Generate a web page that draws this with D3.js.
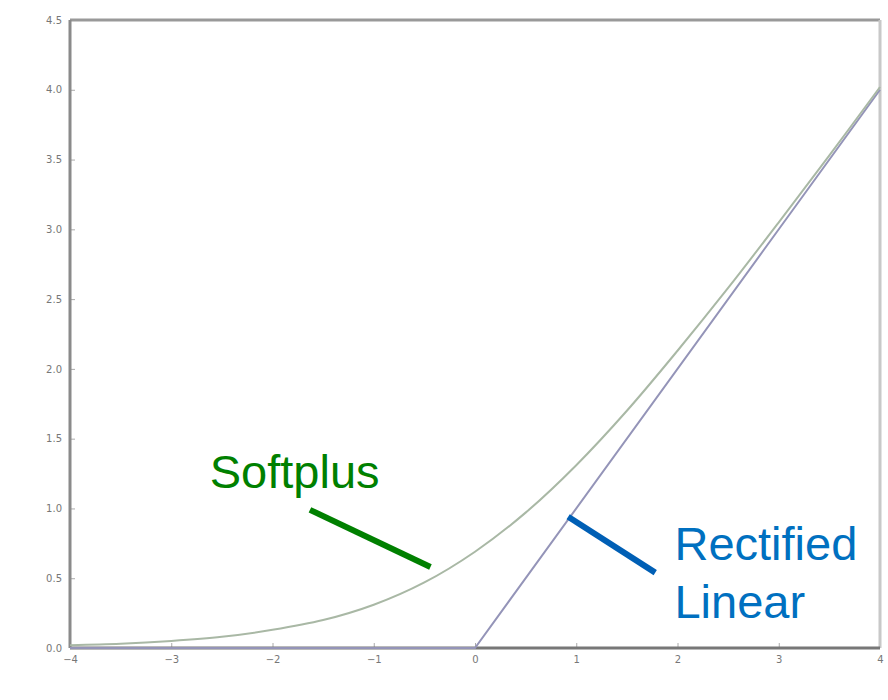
<!DOCTYPE html>
<html>
<head>
<meta charset="UTF-8">
<script src="https://d3js.org/d3.v7.min.js"></script>
<style>
  body { margin: 0; background: #fff; }
</style>
</head>
<body>
<div id="chart"></div>
<script>
// values
var xTicks = [-4, -3, -2, -1, 0, 1, 2, 3, 4];
var yTicks = [0, 0.5, 1, 1.5, 2, 2.5, 3, 3.5, 4, 4.5];

var softX = [-4, -3.5, -3, -2.5, -2, -1.5, -1, -0.5, 0, 0.5, 1, 1.5, 2, 2.5, 3, 3.5, 4];
var softY = [0.02, 0.03, 0.05, 0.08, 0.13, 0.20, 0.31, 0.47, 0.69, 0.97, 1.31, 1.70, 2.13, 2.58, 3.05, 3.53, 4.02];

var reluX = [-4, 0, 4];
var reluY = [0, 0, 4];

// annotation labels and pointers (data units)
var labels = [
  { text: "Softplus", x: -2.62, y: 1.15, color: "#008000" },
  { text: "Rectified", x: 1.97, y: 0.63, color: "#0070c0" },
  { text: "Linear", x: 1.97, y: 0.215, color: "#0070c0" }
];
var pointers = [
  { x1: -1.63, y1: 0.99, x2: -0.44, y2: 0.58, color: "#008000" },
  { x1: 0.92, y1: 0.94, x2: 1.78, y2: 0.54, color: "#005fb5" }
];

var W = 888, H = 700;
var margin = { top: 20, right: 8, bottom: 52, left: 70 };

var svg = d3.select("#chart").append("svg")
  .attr("width", W).attr("height", H);

var x = d3.scaleLinear().domain([-4, 4]).range([margin.left, W - margin.right]);
var y = d3.scaleLinear().domain([0, 4.5]).range([H - margin.bottom, margin.top]);

// tick labels
svg.append("g")
  .attr("transform", "translate(0," + (H - margin.bottom) + ")")
  .call(d3.axisBottom(x).tickValues(xTicks).tickSize(-5).tickPadding(8)
    .tickFormat(function (d) { return d3.format("d")(d); }))
  .call(function (g) {
    g.select(".domain").remove();
    g.selectAll("line").attr("stroke", "#aaa");
    g.selectAll("text").attr("fill", "#777").style("font", "10px 'DejaVu Sans'");
  });

svg.append("g")
  .attr("transform", "translate(" + margin.left + ",0)")
  .call(d3.axisLeft(y).tickValues(yTicks).tickSize(-5).tickPadding(8)
    .tickFormat(d3.format(".1f")))
  .call(function (g) {
    g.select(".domain").remove();
    g.selectAll("line").attr("stroke", "#aaa");
    g.selectAll("text").attr("fill", "#777").style("font", "10px 'DejaVu Sans'");
  });

// frame
var x0 = x(-4), x1 = x(4), y0 = y(0), y1 = y(4.5);
svg.append("line").attr("x1", x0).attr("x2", x1).attr("y1", y1).attr("y2", y1)
  .attr("stroke", "#999").attr("stroke-width", 3);
svg.append("line").attr("x1", x1).attr("x2", x1).attr("y1", y1).attr("y2", y0)
  .attr("stroke", "#c8c8c8").attr("stroke-width", 3);
svg.append("line").attr("x1", x0).attr("x2", x0).attr("y1", y1).attr("y2", y0)
  .attr("stroke", "#8a8a8a").attr("stroke-width", 3);
svg.append("line").attr("x1", x0).attr("x2", x1).attr("y1", y0).attr("y2", y0)
  .attr("stroke", "#777").attr("stroke-width", 3);

// curves
var line = d3.line()
  .x(function (d) { return x(d[0]); })
  .y(function (d) { return y(d[1]); });

svg.append("path")
  .datum(reluX.map(function (v, i) { return [v, reluY[i]]; }))
  .attr("d", line)
  .attr("fill", "none")
  .attr("stroke", "#9494b8")
  .attr("stroke-width", 2);

svg.append("path")
  .datum(softX.map(function (v, i) { return [v, softY[i]]; }))
  .attr("d", line.curve(d3.curveCatmullRom))
  .attr("fill", "none")
  .attr("stroke", "#a9b8a5")
  .attr("stroke-width", 2);

// annotations
svg.selectAll(".pointer")
  .data(pointers)
  .enter().append("line")
  .attr("x1", function (d) { return x(d.x1); })
  .attr("y1", function (d) { return y(d.y1); })
  .attr("x2", function (d) { return x(d.x2); })
  .attr("y2", function (d) { return y(d.y2); })
  .attr("stroke", function (d) { return d.color; })
  .attr("stroke-width", 6);

svg.selectAll(".label")
  .data(labels)
  .enter().append("text")
  .attr("x", function (d) { return x(d.x); })
  .attr("y", function (d) { return y(d.y); })
  .attr("fill", function (d) { return d.color; })
  .style("font", "47px 'Liberation Sans', Arial, sans-serif")
  .text(function (d) { return d.text; });
</script>
</body>
</html>
